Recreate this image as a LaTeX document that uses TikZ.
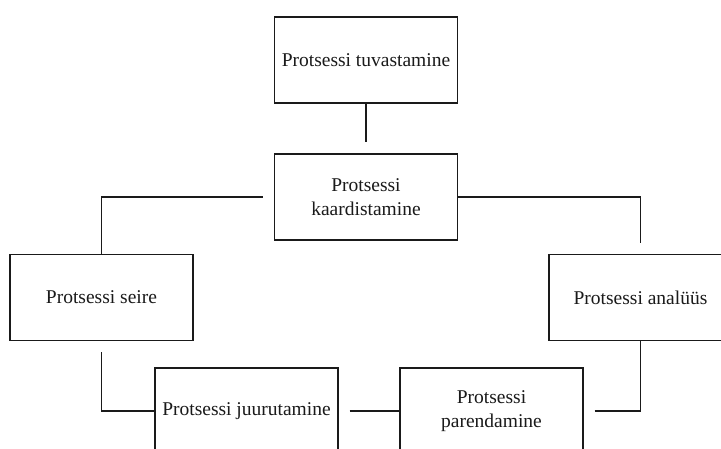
\documentclass[tikz,border=0pt]{standalone}
\usepackage{fontspec}
\setmainfont{Liberation Serif}
\usetikzlibrary{positioning}
\definecolor{ringInk}{HTML}{1A1A1A}

\begin{document}
\begin{tikzpicture}[x=1pt,y=-1pt,line cap=butt,line join=miter]
\path[fill=white] (0,0) rectangle (721,448);
\clip (0,0) rectangle (721,448);
\tikzset{stage/.style={draw=ringInk,line width=1.2pt,minimum width=183pt,minimum height=86pt,inner sep=1pt,align=center,text=ringInk,font=\fontsize{19.5}{23.5}\selectfont},link/.style={draw=ringInk,line width=1.2pt}}
% boxes of the process ring
\node[stage] (tuv) at (366,60) {Protsessi tuvastamine};
\node[stage] (kaart) at (366,197) {Protsessi\\kaardistamine};
\node[stage] (seire) at (101.5,297.5) {Protsessi seire};
\node[stage] (anal) at (640.5,297.5) {Protsessi analüüs};
\node[stage] (juur) at (246.5,411) {Protsessi juurutamine};
\node[stage] (paren) at (491.5,411) {Protsessi\\parendamine};
% connectors
\draw[link,shorten >=11pt] (tuv.south) -- (kaart.north);
\draw[link,shorten <=11pt] (kaart.west) -| (seire.north);
\draw[link,shorten >=11pt] (kaart.east) -| (anal.north);
\draw[link,shorten <=11pt] (seire.south) |- (juur.west);
\draw[link,shorten <=11pt] (juur.east) -- (paren.west);
\draw[link,shorten <=11pt] (paren.east) -| (anal.south);
\end{tikzpicture}
\end{document}
